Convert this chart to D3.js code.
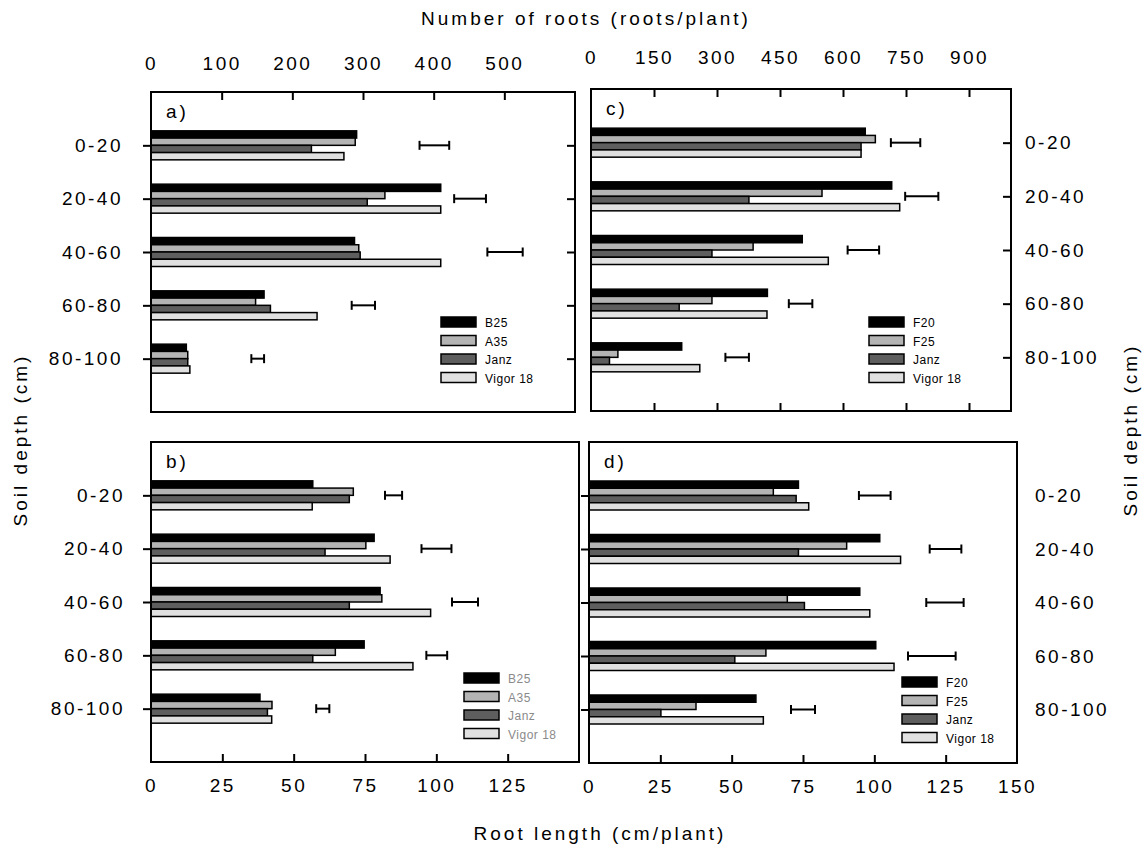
<!DOCTYPE html>
<html>
<head>
<meta charset="utf-8">
<script src="https://cdn.jsdelivr.net/npm/d3@7"></script>
<style>
  body { margin: 0; background: #fff; }
  text { font-family: "Liberation Sans", Arial, sans-serif; fill: #000; }
  .tick text { font-size: 19px; letter-spacing: 2.5px; }
  .title { font-size: 19px; letter-spacing: 3px; }
  .leg { font-size: 12px; letter-spacing: 0.5px; }
</style>
</head>
<body>
<div id="chart"></div>
<script>
var W = 1144, H = 850;

var depths = ["0-20", "20-40", "40-60", "60-80", "80-100"];
var cultivarsAB = ["B25", "A35", "Janz", "Vigor 18"];
var cultivarsCD = ["F20", "F25", "Janz", "Vigor 18"];
var fills = ["#000000", "#b4b4b4", "#5e5e5e", "#e0e0e0"];

// number of roots (roots/plant), one row per depth, one value per cultivar
var rootsA = [[291, 289, 227, 273], [410, 331, 306, 410], [288, 294, 296, 410], [160, 148, 169, 235], [50, 52, 52, 55]];
var rootsC = [[653, 677, 643, 643], [716, 550, 376, 735], [503, 386, 288, 565], [420, 288, 210, 419], [216, 64, 44, 259]];
// root length (cm/plant)
var lengthB = [[56.7, 70.9, 69.5, 56.5], [78.2, 75.3, 61, 83.8], [80.3, 80.9, 69.5, 98], [74.7, 64.6, 56.7, 91.8], [38.2, 42.4, 40.8, 42.3]];
var lengthD = [[73.4, 64.6, 72.6, 77], [101.9, 90.3, 73.4, 109.2], [94.9, 69.5, 75.5, 98.4], [100.5, 62, 51.1, 106.9], [58.5, 37.5, 25.2, 61.1]];

// error bars [low, high]
var errA = [[380, 422], [429, 474], [476, 526], [284, 317], [142, 160]];
var errC = [[714, 784], [748, 827], [611, 686], [471, 527], [320, 376]];
var errB = [[82, 88], [94.8, 105.3], [105.5, 114.6], [96.5, 103.8], [57.9, 62.5]];
var errD = [[94.6, 105.7], [119.4, 130.5], [118.2, 131.3], [111.8, 128.5], [70.8, 79.2]];

var ticksA = [0, 100, 200, 300, 400, 500];
var ticksC = [0, 150, 300, 450, 600, 750, 900];
var ticksB = [0, 25, 50, 75, 100, 125];
var ticksD = [0, 25, 50, 75, 100, 125, 150];

var svg = d3.select("#chart").append("svg")
    .attr("width", W)
    .attr("height", H);

var panels = [
    { id: "a", x0: 151, x1: 575, y0: 92, y1: 412, max: 600, ticks: ticksA, data: rootsA, err: errA, names: cultivarsAB,
      top: "labels", left: "labels", right: "ticks", bottom: "none",
      leg: { x: 441, y: 317 }, legColor: "#000" },
    { id: "c", x0: 591, x1: 1011, y0: 89, y1: 411, max: 1000, ticks: ticksC, data: rootsC, err: errC, names: cultivarsCD,
      top: "labels", left: "none", right: "labels", bottom: "ticks",
      leg: { x: 869, y: 317 }, legColor: "#000" },
    { id: "b", x0: 151, x1: 579, y0: 442, y1: 762, max: 150, ticks: ticksB, data: lengthB, err: errB, names: cultivarsAB,
      top: "none", left: "labels", right: "none", bottom: "labels",
      leg: { x: 464, y: 673 }, legColor: "#8a8a8a" },
    { id: "d", x0: 589, x1: 1017, y0: 442, y1: 763, max: 150, ticks: ticksD, data: lengthD, err: errD, names: cultivarsCD,
      top: "none", left: "ticks", right: "labels", bottom: "labels",
      leg: { x: 902, y: 677 }, legColor: "#000" }
];

panels.forEach(function(p) {
    var x = d3.scaleLinear().domain([0, p.max]).range([p.x0, p.x1]);
    var y = d3.scalePoint().domain(depths).range([p.y0, p.y1]).padding(1);
    var inner = d3.scaleBand().domain(d3.range(4)).range([-14.5, 14.5]);

    var g = svg.append("g").attr("class", "panel-" + p.id);

    // bars
    var grp = g.selectAll(".grp")
        .data(p.data)
        .enter().append("g")
        .attr("transform", function(d, i) { return "translate(0," + y(depths[i]) + ")"; });

    grp.selectAll("rect")
        .data(function(d) { return d; })
        .enter().append("rect")
        .attr("x", x(0))
        .attr("y", function(d, j) { return inner(j); })
        .attr("width", function(d) { return x(d) - x(0); })
        .attr("height", inner.bandwidth())
        .attr("fill", function(d, j) { return fills[j]; })
        .attr("stroke", "#000")
        .attr("stroke-width", 1.5);

    // error bars
    var eb = g.selectAll(".err")
        .data(p.err)
        .enter().append("g")
        .attr("class", "err")
        .attr("stroke", "#000")
        .attr("stroke-width", 2);
    eb.append("line")
        .attr("x1", function(d) { return x(d[0]); })
        .attr("x2", function(d) { return x(d[1]); })
        .attr("y1", function(d, i) { return y(depths[i]); })
        .attr("y2", function(d, i) { return y(depths[i]); });
    [0, 1].forEach(function(k) {
        eb.append("line")
            .attr("x1", function(d) { return x(d[k]); })
            .attr("x2", function(d) { return x(d[k]); })
            .attr("y1", function(d, i) { return y(depths[i]) - 4.5; })
            .attr("y2", function(d, i) { return y(depths[i]) + 4.5; });
    });

    // frame
    g.append("rect")
        .attr("x", p.x0).attr("y", p.y0)
        .attr("width", p.x1 - p.x0).attr("height", p.y1 - p.y0)
        .attr("fill", "none")
        .attr("stroke", "#000")
        .attr("stroke-width", 2);

    // axes
    if (p.top != "none") {
        var ax = g.append("g")
            .attr("transform", "translate(0," + p.y0 + ")")
            .call(d3.axisTop(x).tickValues(p.ticks).tickSize(-8).tickPadding(p.id == "a" ? 22 : 25));
        tidy(ax);
        ax.selectAll(".tick").filter(function(t) { return t == 0; }).select("line").remove();
    }
    if (p.bottom != "none") {
        var tv = p.ticks.filter(function(t) { return t > 0 && t < p.max; });
        var ab = g.append("g")
            .attr("transform", "translate(0," + p.y1 + ")")
            .call(d3.axisBottom(x).tickValues(p.bottom == "labels" ? p.ticks : tv).tickSize(-8).tickPadding(17));
        tidy(ab);
        if (p.bottom == "labels") {
            ab.selectAll(".tick").filter(function(t) { return t == 0 || t == p.max; }).select("line").remove();
        } else {
            ab.selectAll("text").remove();
        }
    }
    if (p.left != "none") {
        var al = g.append("g")
            .attr("transform", "translate(" + p.x0 + ",0)")
            .call(d3.axisLeft(y).tickSize(8).tickPadding(p.id == "a" ? 20 : 18));
        tidy(al);
        if (p.left == "ticks") al.selectAll("text").remove();
    }
    if (p.right == "labels") {
        var ar = g.append("g")
            .attr("transform", "translate(" + p.x1 + ",0)")
            .call(d3.axisRight(y).tickSize(p.id == "c" ? -8 : 0).tickPadding(p.id == "c" ? 14 : 18));
        tidy(ar);
    } else if (p.right == "ticks") {
        var ar2 = g.append("g")
            .attr("transform", "translate(" + p.x1 + ",0)")
            .call(d3.axisRight(y).tickSize(-8).tickFormat(""));
        tidy(ar2);
    }

    // panel letter
    g.append("text")
        .attr("class", "title")
        .attr("x", p.x0 + 15)
        .attr("y", p.y0 + 26)
        .text(p.id + ")");

    // legend
    var leg = g.selectAll(".leg-item")
        .data(p.names)
        .enter().append("g")
        .attr("transform", function(d, i) { return "translate(" + p.leg.x + "," + (p.leg.y + i * 18.5) + ")"; });
    leg.append("rect")
        .attr("width", 35).attr("height", 10)
        .attr("fill", function(d, i) { return fills[i]; })
        .attr("stroke", "#000")
        .attr("stroke-width", 1.5);
    leg.append("text")
        .attr("class", "leg")
        .attr("x", 44)
        .attr("y", 10)
        .style("fill", p.legColor)
        .text(function(d) { return d; });
});

function tidy(sel) {
    sel.select(".domain").remove();
    sel.selectAll(".tick line").attr("stroke", "#000").attr("stroke-width", 2);
    sel.selectAll(".tick text").attr("fill", "#000");
}

// axis titles
svg.append("text")
    .attr("class", "title")
    .attr("x", 586).attr("y", 25)
    .attr("text-anchor", "middle")
    .text("Number of roots (roots/plant)");

svg.append("text")
    .attr("class", "title")
    .attr("x", 600).attr("y", 840)
    .attr("text-anchor", "middle")
    .text("Root length (cm/plant)");

svg.append("text")
    .attr("class", "title")
    .attr("transform", "translate(27,440) rotate(-90)")
    .attr("text-anchor", "middle")
    .text("Soil depth (cm)");

svg.append("text")
    .attr("class", "title")
    .attr("transform", "translate(1137,430) rotate(-90)")
    .attr("text-anchor", "middle")
    .text("Soil depth (cm)");
</script>
</body>
</html>
